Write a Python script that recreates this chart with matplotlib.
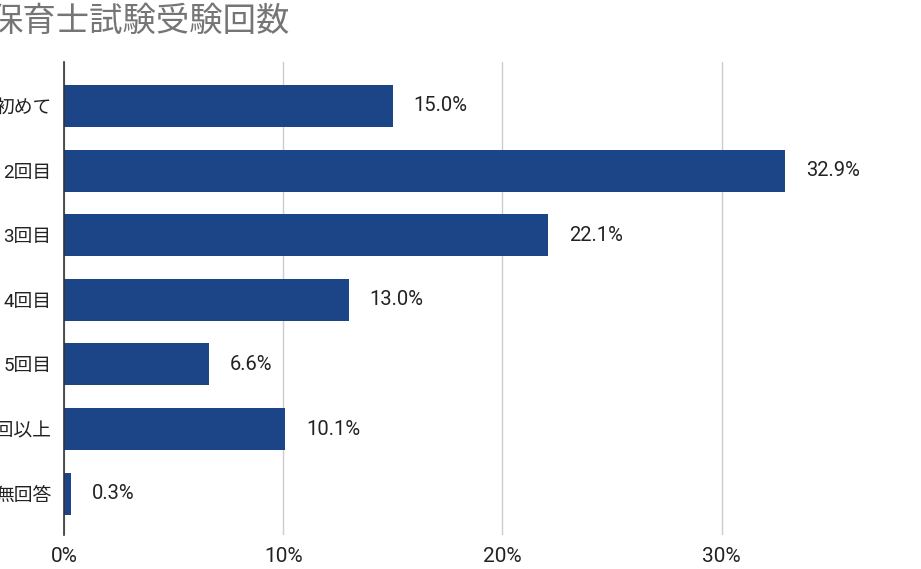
import matplotlib
matplotlib.use("Agg")
import matplotlib.pyplot as plt

plt.rcParams['font.family'] = ['Roboto', 'Noto Sans CJK JP', 'DejaVu Sans']

# data
categories = ['初めて', '2回目', '3回目', '4回目', '5回目', '6回以上', '無回答']
shares = [15.0, 32.9, 22.1, 13.0, 6.6, 10.1, 0.3]
xticks = [0, 10, 20, 30]
title = '保育士試験受験回数'

bar_color = '#1c4587'

fig = plt.figure(figsize=(9.21, 5.69), dpi=100)
# axes left at px 64, top at px 62, bottom at px 535
ax = fig.add_axes([64/921, 1 - 535/569, 1 - 64/921, (535 - 62)/569])

ypos = list(range(len(categories)))
ax.barh(ypos, shares, height=0.65, color=bar_color, zorder=3)

# value labels right of each bar
for y, v in zip(ypos, shares):
    ax.annotate(f'{v:.1f}%', xy=(v, y), xytext=(15, 0), textcoords='offset points',
                ha='left', va='center', fontsize=14.5, color='#222222')

ax.set_xlim(0, 857/21.92)
ax.set_ylim(6.64, -0.68)
ax.set_yticks(ypos)
ax.set_yticklabels(categories, fontsize=13.5, color='#222222')
ax.set_xticks(xticks)
ax.set_xticklabels([f'{t}%' for t in xticks], fontsize=15, color='#222222')
ax.tick_params(axis='both', length=0)
ax.tick_params(axis='y', pad=9)
ax.tick_params(axis='x', pad=9)

ax.grid(axis='x', color='#cccccc', linewidth=1, zorder=0)
for s in ['top', 'right', 'bottom']:
    ax.spines[s].set_visible(False)
ax.spines['left'].set_color('#333333')
ax.spines['left'].set_linewidth(1.2)
ax.spines['left'].set_zorder(4)

fig.text(-11/921, 1 - 22/569, title, fontsize=24, color='#757575',
         ha='left', va='center')

fig.savefig('out.png', dpi=100)
